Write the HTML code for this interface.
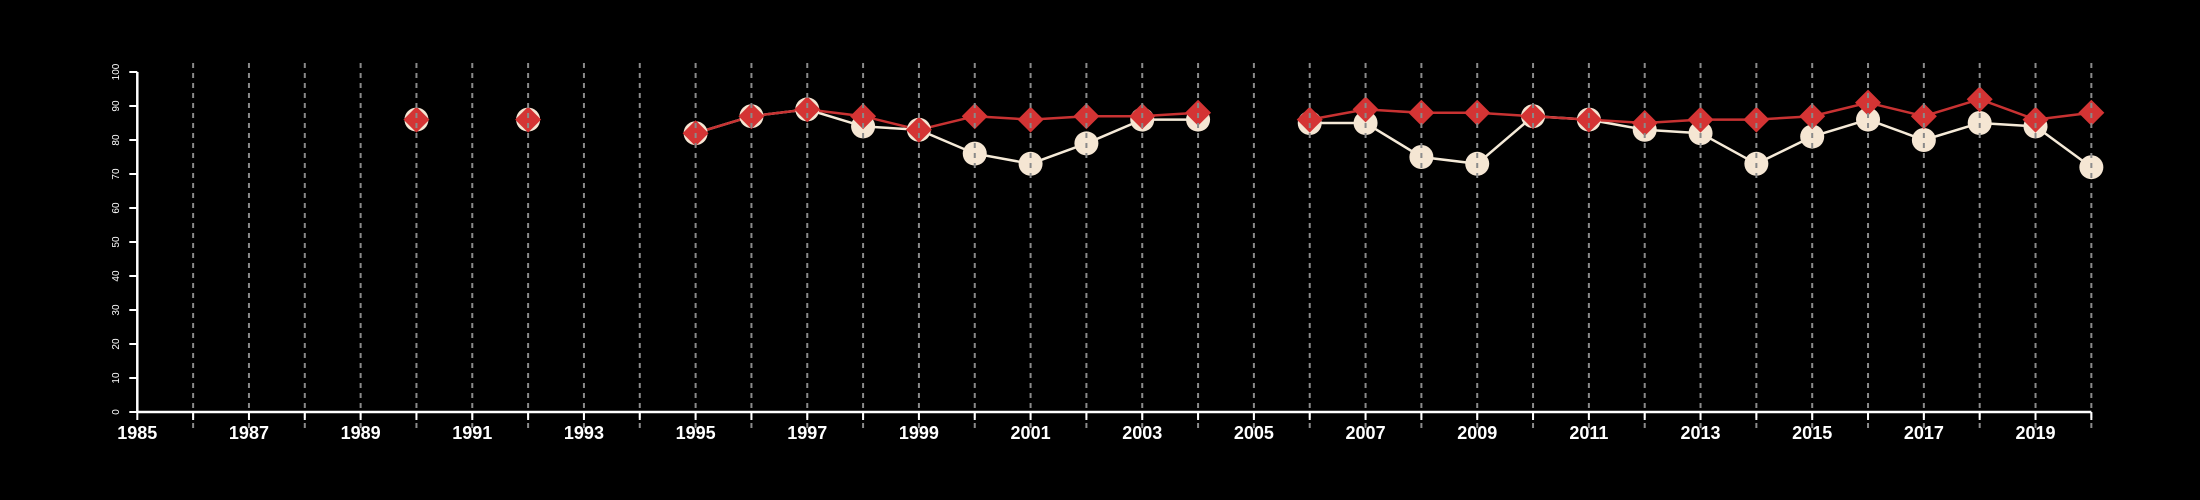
<!DOCTYPE html>
<html><head><meta charset="utf-8"><style>html,body{margin:0;background:#000;}svg{display:block;}</style></head>
<body>
<svg id="chart" width="2200" height="500" xmlns="http://www.w3.org/2000/svg" style="font-family:'Liberation Sans',sans-serif">
<rect width="2200" height="500" fill="#000"/>
<g id="lines"></g><g id="marks"></g><g id="grid"></g><g id="axes"></g>
</svg>
<script>
const years = [1990,1992,1995,1996,1997,1998,1999,2000,2001,2002,2003,2004,2006,2007,2008,2009,2010,2011,2012,2013,2014,2015,2016,2017,2018,2019,2020];
const seriesA = [86,86,82,87,89,84,83,76,73,79,86,86,85,85,75,73,87,86,83,82,73,81,86,80,85,84,72];
const seriesB = [86,86,82,87,89,87,83,87,86,87,87,88,86,89,88,88,87,86,85,86,86,87,91,87,92,86,88];
const yTicks = [0,10,20,30,40,50,60,70,80,90,100];
const xLabels = [1985,1987,1989,1991,1993,1995,1997,1999,2001,2003,2005,2007,2009,2011,2013,2015,2017,2019];
const NS='http://www.w3.org/2000/svg';
const X0=137.3, XS=55.83, Y0=412, YS=3.4;
const x=v=>X0+(v-1985)*XS, y=v=>Y0-v*YS;
function mk(tag,attrs,parent){const e=document.createElementNS(NS,tag);for(const k in attrs)e.setAttribute(k,attrs[k]);document.getElementById(parent).appendChild(e);return e;}
function segs(vals){let out=[],cur=[];years.forEach((yr,i)=>{if(i>0&&yr-years[i-1]>1){out.push(cur);cur=[];}cur.push([x(yr),y(vals[i])]);});out.push(cur);return out.filter(s=>s.length>1);}
segs(seriesA).forEach(s=>{const p=mk('polyline',{points:s.map(q=>q.join(',')).join(' '),fill:'none',stroke:'#f5ead8','stroke-width':2.5},'lines');

});
segs(seriesB).forEach(s=>{const p=mk('polyline',{points:s.map(q=>q.join(',')).join(' '),fill:'none',stroke:'#c83232','stroke-width':2.5},'lines');

});
years.forEach((yr,i)=>{const c=mk('circle',{cx:x(yr),cy:y(seriesA[i]),r:12,fill:'#f5e6d3'},'marks');

});
years.forEach((yr,i)=>{const cx=x(yr),cy=y(seriesB[i]),d=13;const p=mk('polygon',{points:`${cx},${cy-d} ${cx+d},${cy} ${cx},${cy+d} ${cx-d},${cy}`,fill:'#d43434'},'marks');

});
for(let yr=1986;yr<=2020;yr++){const l=mk('line',{x1:x(yr),x2:x(yr),y1:63,y2:428,stroke:'#8a8a8a','stroke-width':2,'stroke-dasharray':'5,5'},'grid');

}
const ax=mk('line',{x1:X0,x2:x(2020),y1:Y0,y2:Y0,stroke:'#fff','stroke-width':2.5},'axes');


const ay=mk('line',{x1:X0,x2:X0,y1:y(100),y2:Y0,stroke:'#fff','stroke-width':2.5},'axes');


for(let yr=1985;yr<=2020;yr++){const t=mk('line',{x1:x(yr),x2:x(yr),y1:Y0,y2:Y0+8,stroke:'#fff','stroke-width':2},'axes');

}
xLabels.forEach(v=>{const t=mk('text',{x:x(v),y:439,fill:'#fff','font-size':18,'font-weight':'bold','text-anchor':'middle'},'axes');t.textContent=v;

});
yTicks.forEach(v=>{const t=mk('line',{x1:X0-8,x2:X0,y1:y(v),y2:y(v),stroke:'#fff','stroke-width':2},'axes');


const tx=mk('text',{x:0,y:0,transform:`translate(119,${y(v)}) rotate(-90)`,fill:'#fff','font-size':10,'text-anchor':'middle'},'axes');tx.textContent=v;

});
</script>
</body></html>
